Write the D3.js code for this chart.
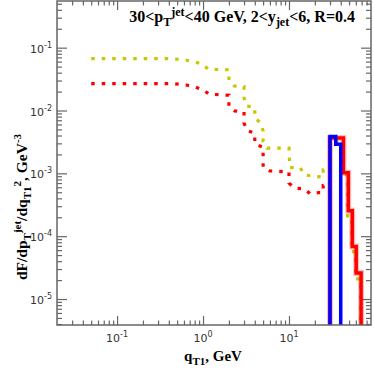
<!DOCTYPE html>
<html>
<head>
<meta charset="utf-8">
<script src="https://cdn.jsdelivr.net/npm/d3@7"></script>
<style>
  body { margin: 0; background: #fff; }
</style>
</head>
<body>
<div id="chart"></div>
<script>
// ---- data (q_T1 in GeV, dF values) ----
// yellow dotted step curve
var yellowDotQ = [0.05, 0.44, 0.64, 0.81, 1.0, 1.15, 2.0, 2.0, 2.31, 3.0, 3.0, 3.19,
  4.0, 4.0, 4.67, 5.0, 5.0, 5.55, 10, 10.2, 13.5, 15, 18.9, 25,
  25, 30, 30, 42.5, 42.5, 48, 48, 53.5, 53.5, 59.5, 59.5, 68, 68];
var yellowDotF = [0.0668, 0.0668, 0.0631, 0.0593, 0.0541, 0.0453, 0.0445, 0.0299, 0.0246, 0.0240, 0.0160, 0.01183,
  0.0112, 0.00754, 0.00642, 0.00474, 0.0032, 0.002515, 0.002515, 0.001237, 0.001237, 0.000947, 0.000903, 0.00087,
  0.00114, 0.00114, 0.0031, 0.0031, 0.00095, 0.00095, 0.00021, 0.00021, 0.000057, 0.000057, 0.000021, 0.000021, 1e-7];

// red dotted step curve
var redDotQ = [0.05, 0.44, 0.64, 0.81, 1.0, 1.18, 2.0, 2.0, 2.33, 3.0, 3.0, 3.27,
  4.0, 4.0, 5.0, 5.0, 5.95, 10, 10, 11.6, 15, 17.7, 22.7, 25, 25, 30];
var redDotF = [0.0268, 0.0268, 0.0255, 0.0237, 0.0213, 0.0182, 0.0175, 0.01153, 0.00985, 0.0095, 0.00628, 0.00479,
  0.00436, 0.00294, 0.00261, 0.001255, 0.001096, 0.001056, 0.000699, 0.000582, 0.000567, 0.000472, 0.000495, 0.000495,
  0.00064, 0.00064];

// solid histograms: bin edges and bin values
var redEdges = [30, 43, 49, 54.5, 60.5, 69];
var redVals = [0.00366, 0.00102, 0.000254, 0.0000685, 0.0000259];
var blueEdges = [30, 35, 40];
var blueVals = [0.00385, 0.0029];

// axis ticks
var xMajor = [0.1, 1, 10];
var xMajorExp = ['-1', '0', '1'];
var yMajor = [1e-1, 1e-2, 1e-3, 1e-4, 1e-5];
var yMajorExp = ['-1', '-2', '-3', '-4', '-5'];

var W = 374, H = 374;
var margin = { top: 1, right: 3, bottom: 49, left: 57 };
var width = W - margin.left - margin.right;
var height = H - margin.top - margin.bottom;

var svg = d3.select('#chart').append('svg').attr('width', W).attr('height', H);
var g = svg.append('g').attr('transform', 'translate(' + margin.left + ',' + margin.top + ')');

var x = d3.scaleLog().domain([0.02, 90]).range([0, width]);
var y = d3.scaleLog().domain([3.86e-6, 0.553]).range([height, 0]);

g.append('clipPath').attr('id', 'plotClip')
  .append('rect').attr('width', width).attr('height', height);

// minor ticks: 2..9 x each decade inside domain
function minors(scale, lo, hi) {
  var out = [];
  for (var e = lo; e <= hi; e++) {
    for (var m = 2; m <= 9; m++) {
      var v = m * Math.pow(10, e);
      var d = scale.domain();
      if (v > d[0] && v < d[1]) out.push(v);
    }
  }
  return out;
}
var xMinor = minors(x, -2, 1);
var yMinor = minors(y, -6, -1);

var axisColor = '#666';
function styleAxis(sel) {
  sel.select('.domain').remove();
  sel.selectAll('line').attr('stroke', axisColor).attr('stroke-width', 1.2);
}
// left / right
g.append('g').call(d3.axisLeft(y).tickValues(yMajor).tickSize(-10).tickFormat('')).call(styleAxis);
g.append('g').call(d3.axisLeft(y).tickValues(yMinor).tickSize(-5).tickFormat('')).call(styleAxis);
g.append('g').attr('transform', 'translate(' + width + ',0)')
  .call(d3.axisRight(y).tickValues(yMajor).tickSize(-10).tickFormat('')).call(styleAxis);
g.append('g').attr('transform', 'translate(' + width + ',0)')
  .call(d3.axisRight(y).tickValues(yMinor).tickSize(-5).tickFormat('')).call(styleAxis);
// bottom / top
g.append('g').attr('transform', 'translate(0,' + height + ')')
  .call(d3.axisBottom(x).tickValues(xMajor).tickSize(-9).tickFormat('')).call(styleAxis);
g.append('g').attr('transform', 'translate(0,' + height + ')')
  .call(d3.axisBottom(x).tickValues(xMinor).tickSize(-4.5).tickFormat('')).call(styleAxis);
g.append('g').call(d3.axisTop(x).tickValues(xMajor).tickSize(-9).tickFormat('')).call(styleAxis);
g.append('g').call(d3.axisTop(x).tickValues(xMinor).tickSize(-4.5).tickFormat('')).call(styleAxis);

// tick labels 10^n
var tickFont = 'DejaVu Sans, sans-serif';
function powLabel(sel, exp) {
  sel.append('tspan').text('10');
  sel.append('tspan').attr('font-size', 8).attr('dy', -5).text(exp);
}
xMajor.forEach(function(v, i) {
  var t = g.append('text').attr('x', x(v)).attr('y', height + 17)
    .attr('text-anchor', 'middle').attr('font-family', tickFont).attr('font-size', 11).attr('fill', '#333');
  powLabel(t, xMajorExp[i]);
});
yMajor.forEach(function(v, i) {
  var t = g.append('text').attr('x', -5).attr('y', y(v) + 5)
    .attr('text-anchor', 'end').attr('font-family', tickFont).attr('font-size', 11).attr('fill', '#333');
  powLabel(t, yMajorExp[i]);
});

// curves
var plot = g.append('g').attr('clip-path', 'url(#plotClip)');
var line = d3.line().x(function(d) { return x(d[0]); }).y(function(d) { return y(d[1]); });
function zip(a, b) { return a.map(function(v, i) { return [v, b[i]]; }); }
function steps(edges, vals) {
  var pts = [[edges[0], 1e-7]];
  vals.forEach(function(v, i) { pts.push([edges[i], v]); pts.push([edges[i + 1], v]); });
  pts.push([edges[edges.length - 1], 1e-7]);
  return pts;
}

plot.append('path').datum(zip(yellowDotQ, yellowDotF)).attr('d', line)
  .attr('fill', 'none').attr('stroke', '#c8c800').attr('stroke-width', 3.2)
  .attr('stroke-dasharray', '3.5,7');
plot.append('path').datum(zip(redDotQ, redDotF)).attr('d', line)
  .attr('fill', 'none').attr('stroke', '#ff0000').attr('stroke-width', 3.2)
  .attr('stroke-dasharray', '3.5,7');
plot.append('path').datum(steps(redEdges, redVals)).attr('d', line)
  .attr('fill', 'none').attr('stroke', 'rgba(255,0,0,0.25)').attr('stroke-width', 6);
plot.append('path').datum(steps(redEdges, redVals)).attr('d', line)
  .attr('fill', 'none').attr('stroke', '#ff0000').attr('stroke-width', 3.5);
plot.append('path').datum(steps(blueEdges, blueVals)).attr('d', line)
  .attr('fill', 'none').attr('stroke', '#0000ff').attr('stroke-width', 3.5);

// frame
g.append('rect').attr('width', width).attr('height', height)
  .attr('fill', 'none').attr('stroke', axisColor).attr('stroke-width', 1.5);

// titles
var serif = 'Liberation Serif, Times New Roman, serif';
var title = g.append('text').attr('x', width - 16).attr('y', 21).attr('text-anchor', 'end')
  .attr('font-family', serif).attr('font-weight', 'bold').attr('font-size', 16).attr('fill', '#000');
title.append('tspan').text('30<p');
title.append('tspan').attr('font-size', 12).attr('dy', 4).text('T');
title.append('tspan').attr('font-size', 12).attr('dy', -10).text('jet');
title.append('tspan').attr('dy', 6).text('<40 GeV, 2<y');
title.append('tspan').attr('font-size', 12).attr('dy', 4).text('jet');
title.append('tspan').attr('dy', -4).text('<6, R=0.4');

var xl = svg.append('text').attr('x', 213).attr('y', 361).attr('text-anchor', 'middle')
  .attr('font-family', serif).attr('font-weight', 'bold').attr('font-size', 15);
xl.append('tspan').text('q');
xl.append('tspan').attr('font-size', 11).attr('dy', 4).text('T1');
xl.append('tspan').attr('dy', -4).text(', GeV');

var yl = svg.append('text').attr('transform', 'translate(27,207) rotate(-90)').attr('text-anchor', 'middle')
  .attr('font-family', serif).attr('font-weight', 'bold').attr('font-size', 15.5);
yl.append('tspan').text('dF/dp');
yl.append('tspan').attr('font-size', 11).attr('dy', 4).text('T');
yl.append('tspan').attr('font-size', 11).attr('dy', -10).text('jet');
yl.append('tspan').attr('dy', 6).text('/dq');
yl.append('tspan').attr('font-size', 11).attr('dy', 4).text('T1');
yl.append('tspan').attr('font-size', 11).attr('dy', -10).text('2');
yl.append('tspan').attr('dy', 6).text(', GeV');
yl.append('tspan').attr('font-size', 11).attr('dy', -6).text('-3');
</script>
</body>
</html>
